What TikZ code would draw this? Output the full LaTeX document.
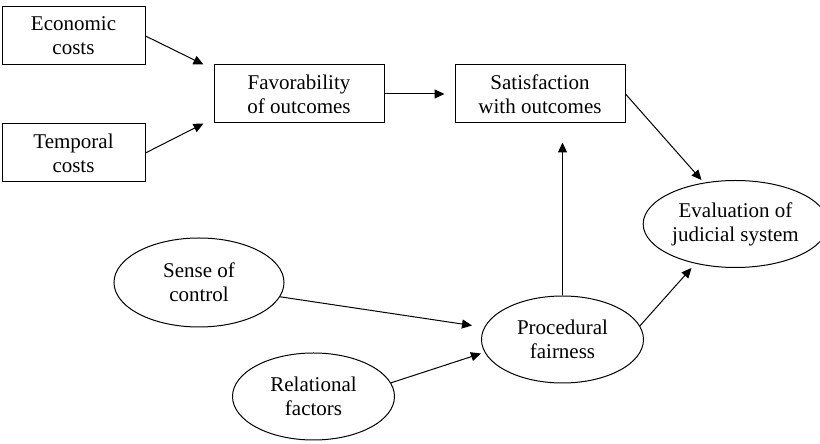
\documentclass[tikz,border=0pt]{standalone}
\usepackage{fontspec}
\setmainfont{Liberation Serif}
\newfontfamily\figfont{Liberation Serif}
\usetikzlibrary{arrows.meta, positioning, shapes.geometric}

\begin{document}
\begin{tikzpicture}[>={Triangle[length=5pt,width=4.5pt]}, line width=0.5pt,
    box/.style={draw, align=center, minimum width=71.5pt, minimum height=29pt,
                inner sep=2pt, font=\figfont\fontsize{10.5}{12}\selectfont},
    widebox/.style={box, minimum width=85pt},
    oval/.style={draw, ellipse, align=center, inner sep=1pt, minimum width=81pt,
                 minimum height=43.5pt, font=\figfont\fontsize{10.5}{12}\selectfont}]
    \useasboundingbox (0,0) rectangle (410pt,222pt);
    \node[box] (econ) at (36.75pt,204pt) {Economic\\costs};
    \node[box, below=29pt of econ] (temp) {Temporal\\costs};
    \node[widebox] (fav) at (149.5pt,175pt) {Favorability\\of outcomes};
    \node[widebox, right=35pt of fav] (sat) {Satisfaction\\with outcomes};
    \node[oval, minimum width=83.5pt] (eval) at (367.75pt,110pt) {Evaluation of\\judicial system};
    \node[oval, minimum width=85pt, minimum height=44.5pt] (sense) at (99.5pt,80.75pt) {Sense of\\control};
    \node[oval] (proc) at (281.25pt,52.25pt) {Procedural\\fairness};
    \node[oval] (rel) at (156.75pt,23.75pt) {Relational\\factors};
    \draw[->] (econ.east) -- ([xshift=-5pt]fav.north west);
    \draw[->] (temp.east) -- ([xshift=-5pt]fav.south west);
    \draw[->, shorten >=5pt] (fav) -- (sat);
    \draw[->] (sat.east) -- ([xshift=-17pt]eval.north);
    \draw[->, shorten >=9.5pt] (proc.north) -- (proc.north |- sat.south);
    \draw[->] (proc.10) -- ([xshift=-22pt]eval.south);
    \draw[->] (sense.-10) -- ([xshift=-4.5pt,yshift=7pt]proc.west);
    \draw[->] (rel.10) -- ([yshift=-7pt]proc.west);
  \end{tikzpicture}
\end{document}
